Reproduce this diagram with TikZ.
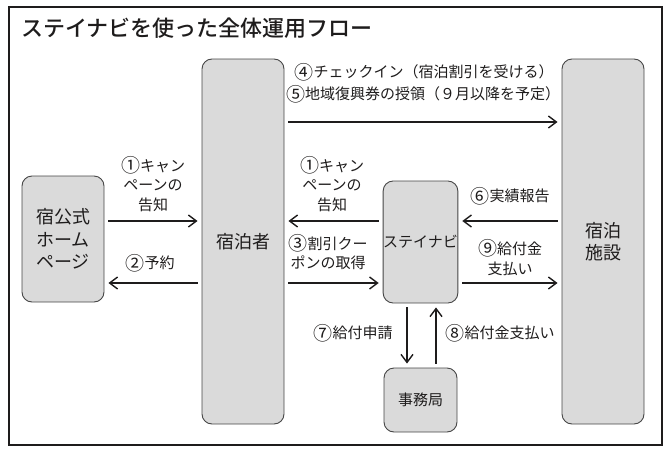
\documentclass[tikz,border=0pt]{standalone}
\usepackage{fontspec}
\setmainfont{Noto Sans CJK JP}
\newfontfamily\titlefont{Noto Sans CJK JP Medium}
\usetikzlibrary{arrows.meta}
\definecolor{boxfill}{RGB}{218,218,218}
\definecolor{boxline}{RGB}{70,70,70}
\definecolor{ink}{RGB}{30,28,28}
\newcommand\cnum[1]{\raisebox{-1.3pt}{\fontsize{19}{19}\selectfont #1}}
\tikzset{
  box/.style={draw=boxline, fill=boxfill, line width=0.9pt, rounded corners=10pt, inner sep=0pt, text=ink, align=center},
  bigtxt/.style={font=\fontsize{18}{22.5}\selectfont},
  smalltxt/.style={font=\fontsize{15}{19}\selectfont},
  lbl/.style={text=ink, align=center, inner sep=0pt, font=\fontsize{15}{19.5}\selectfont},
  arr/.style={draw=ink, line width=1.4pt, -{Straight Barb[length=8pt,width=12pt]}, shorten <=4pt, shorten >=4pt},
}
\begin{document}
\begin{tikzpicture}[x=1pt,y=-1pt]
\useasboundingbox (0,0) rectangle (672,458);
\draw[ink, line width=1.1pt] (9,7) rectangle (662,445);
\node[anchor=west, inner sep=0pt, text=ink, font=\fontsize{22}{26}\titlefont] (title) at (21,28) {ステイナビを使った全体運用フロー};
% boxes
\node[box, bigtxt, minimum width=82pt, minimum height=126pt] (hp) at (63,239) {宿公式\\ホーム\\ページ};
\node[box, bigtxt, minimum width=82pt, minimum height=365pt] (guest) at (243,241.5) {宿泊者};
\node[box, bigtxt, minimum width=82pt, minimum height=365pt] (fac) at (603,241.5) {宿泊\\施設};
\node[box, smalltxt, minimum width=73pt, minimum height=122pt] (navi) at (420.5,242) {ステイナビ};
\node[box, smalltxt, minimum width=73pt, minimum height=64pt] (office) at (420.5,400) {事務局};
% rows / columns
\coordinate (r0) at (0,122);
\coordinate (r1) at (0,221);
\coordinate (r2) at (0,283);
\coordinate (c7) at (407,0);
\coordinate (c8) at (436,0);
% connectors
\draw[arr] (hp.east |- r1) -- (guest.west |- r1);
\draw[arr] (guest.west |- r2) -- (hp.east |- r2);
\draw[arr] (guest.east |- r0) -- (fac.west |- r0);
\draw[arr] (navi.west |- r1) -- (guest.east |- r1);
\draw[arr] (guest.east |- r2) -- (navi.west |- r2);
\draw[arr] (fac.west |- r1) -- (navi.east |- r1);
\draw[arr] (navi.east |- r2) -- (fac.west |- r2);
\draw[arr] (c7 |- navi.south) -- (c7 |- office.north);
\draw[arr] (c8 |- office.north) -- (c8 |- navi.south);
% labels
\node[lbl] (l1a) at (153,184) {\cnum{①}キャン\\ペーンの\\告知};
\node[lbl] (l2) at (150,263) {\cnum{②}予約};
\node[lbl] (l4) at (424,72) {\cnum{④}チェックイン（宿泊割引を受ける）};
\node[lbl] (l5) at (423,94) {\cnum{⑤}地域復興券の授領（９月以降を予定）};
\node[lbl] (l1b) at (332,184) {\cnum{①}キャン\\ペーンの\\告知};
\node[lbl] (l3) at (328,252) {\cnum{③}割引クー\\ポンの取得};
\node[lbl] (l6) at (510,196) {\cnum{⑥}実績報告};
\node[lbl] (l9) at (510,257.5) {\cnum{⑨}給付金\\支払い};
\node[lbl] (l7) at (353,333) {\cnum{⑦}給付申請};
\node[lbl] (l8) at (500,333) {\cnum{⑧}給付金支払い};
\end{tikzpicture}
\end{document}
